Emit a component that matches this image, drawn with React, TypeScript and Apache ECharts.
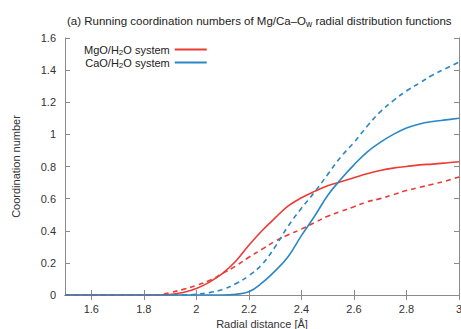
import React, { useEffect, useRef } from "react";
import * as echarts from "echarts";

const radius = [1.5, 1.55, 1.6, 1.65, 1.7, 1.75, 1.8, 1.85, 1.9, 1.95, 2.0, 2.05, 2.1, 2.15, 2.2, 2.25, 2.3, 2.35, 2.4, 2.45, 2.5, 2.55, 2.6, 2.65, 2.7, 2.75, 2.8, 2.85, 2.9, 2.95, 3.0];

const mgoSolid = [0, 0, 0, 0, 0, 0, 0, 0, 0.003, 0.015, 0.04, 0.08, 0.135, 0.21, 0.31, 0.4, 0.48, 0.555, 0.605, 0.645, 0.68, 0.705, 0.73, 0.755, 0.775, 0.79, 0.8, 0.81, 0.815, 0.822, 0.83];
const mgoDashed = [0, 0, 0, 0, 0, 0, 0, 0, 0.015, 0.035, 0.06, 0.09, 0.135, 0.18, 0.235, 0.285, 0.335, 0.375, 0.41, 0.45, 0.49, 0.52, 0.55, 0.58, 0.6, 0.625, 0.65, 0.67, 0.69, 0.71, 0.735];
const caoDashed = [0, 0, 0, 0, 0, 0, 0, 0, 0, 0, 0.005, 0.015, 0.035, 0.07, 0.12, 0.19, 0.3, 0.43, 0.54, 0.64, 0.75, 0.86, 0.95, 1.05, 1.14, 1.21, 1.27, 1.32, 1.37, 1.41, 1.45];
const caoSolid = [0, 0, 0, 0, 0, 0, 0, 0, 0, 0, 0, 0, 0, 0.005, 0.02, 0.075, 0.15, 0.24, 0.37, 0.49, 0.62, 0.72, 0.81, 0.89, 0.95, 1.0, 1.04, 1.065, 1.08, 1.09, 1.1];

const xTicks = [1.6, 1.8, 2.0, 2.2, 2.4, 2.6, 2.8, 3.0];

const RED = "#ec3b35";
const BLUE = "#2a88c6";
const FRAME = "#8a8a8a";
const FONT = "Liberation Sans, Arial, sans-serif";

const pairs = (ys: number[]) => radius.map((r, i) => [r, ys[i]]);

export default function App() {
  const ref = useRef<HTMLDivElement>(null);
  useEffect(() => {
    if (!ref.current) return;
    const chart = echarts.init(ref.current, undefined, { renderer: "svg" });
    const axisCommon = {
      axisLine: { show: true, lineStyle: { color: FRAME, width: 1 } },
      axisTick: { show: true, inside: true, length: 5, lineStyle: { color: FRAME } },
      splitLine: { show: false },
    };
    const lineSeries = (name: string, data: number[], color: string, dashed: boolean) => ({
      name,
      type: "line",
      data: pairs(data),
      showSymbol: false,
      smooth: 0.4,
      lineStyle: { color, width: 1.6, type: dashed ? [5, 4] : "solid" },
      itemStyle: { color },
    });
    chart.setOption({
      animation: false,
      textStyle: { fontFamily: FONT },
      title: {
        text: "{t|(a) Running coordination numbers of Mg/Ca\u2013O}{s|w}{t| radial distribution functions}",
        left: 62,
        top: 8,
        textStyle: {
          fontWeight: "normal",
          rich: {
            t: { fontSize: 11.5, color: "#222", fontFamily: FONT, fontWeight: "normal" },
            s: { fontSize: 8.5, color: "#222", fontFamily: FONT, fontWeight: "normal", verticalAlign: "bottom", padding: [6, 0, 0, 0] },
          },
        },
      },
      legend: {
        data: ["MgO", "CaO"],
        orient: "vertical",
        left: 79,
        top: 38,
        align: "right",
        itemGap: 0,
        itemWidth: 32,
        itemHeight: 2,
        icon: "rect",
        formatter: (n: string) => `{t|${n}/H}{s|2}{t|O system}`,
        textStyle: {
          rich: {
            t: { fontSize: 11, color: "#222", fontFamily: FONT, lineHeight: 13 },
            s: { fontSize: 8, color: "#222", fontFamily: FONT, lineHeight: 13, padding: [5, 0, 0, 0] },
          },
        },
      },
      grid: { left: 65, right: 2, top: 38, bottom: 34, containLabel: false, outerBoundsMode: "none" },
      xAxis: [
        {
          type: "value",
          min: 1.5,
          max: 3.0,
          ...axisCommon,
          axisTick: { ...axisCommon.axisTick, customValues: xTicks },
          axisLabel: { customValues: xTicks, fontSize: 11, color: "#333", margin: 8 },
          name: "Radial distance [\u00c5]",
          nameLocation: "middle",
          nameGap: 22,
          nameTextStyle: { fontSize: 11, color: "#333" },
        },
        {
          type: "value",
          position: "top",
          min: 1.5,
          max: 3.0,
          ...axisCommon,
          axisTick: { ...axisCommon.axisTick, customValues: xTicks },
          axisLabel: { show: false, customValues: xTicks },
        },
      ],
      yAxis: [
        {
          type: "value",
          min: 0,
          max: 1.6,
          interval: 0.2,
          ...axisCommon,
          axisLabel: { fontSize: 11, color: "#333", margin: 9 },
          name: "Coordination number",
          nameLocation: "middle",
          nameGap: 44,
          nameTextStyle: { fontSize: 11, color: "#333" },
        },
        {
          type: "value",
          position: "right",
          min: 0,
          max: 1.6,
          interval: 0.2,
          ...axisCommon,
          axisLabel: { show: false },
        },
      ],
      series: [
        lineSeries("MgO dashed", mgoDashed, RED, true),
        lineSeries("CaO dashed", caoDashed, BLUE, true),
        lineSeries("MgO", mgoSolid, RED, false),
        lineSeries("CaO", caoSolid, BLUE, false),
      ],
    });
    return () => chart.dispose();
  }, []);
  return (
    <div
      ref={ref}
      style={{ position: "absolute", left: 0, top: 0, width: 461, height: 329, background: "#fff" }}
    />
  );
}
